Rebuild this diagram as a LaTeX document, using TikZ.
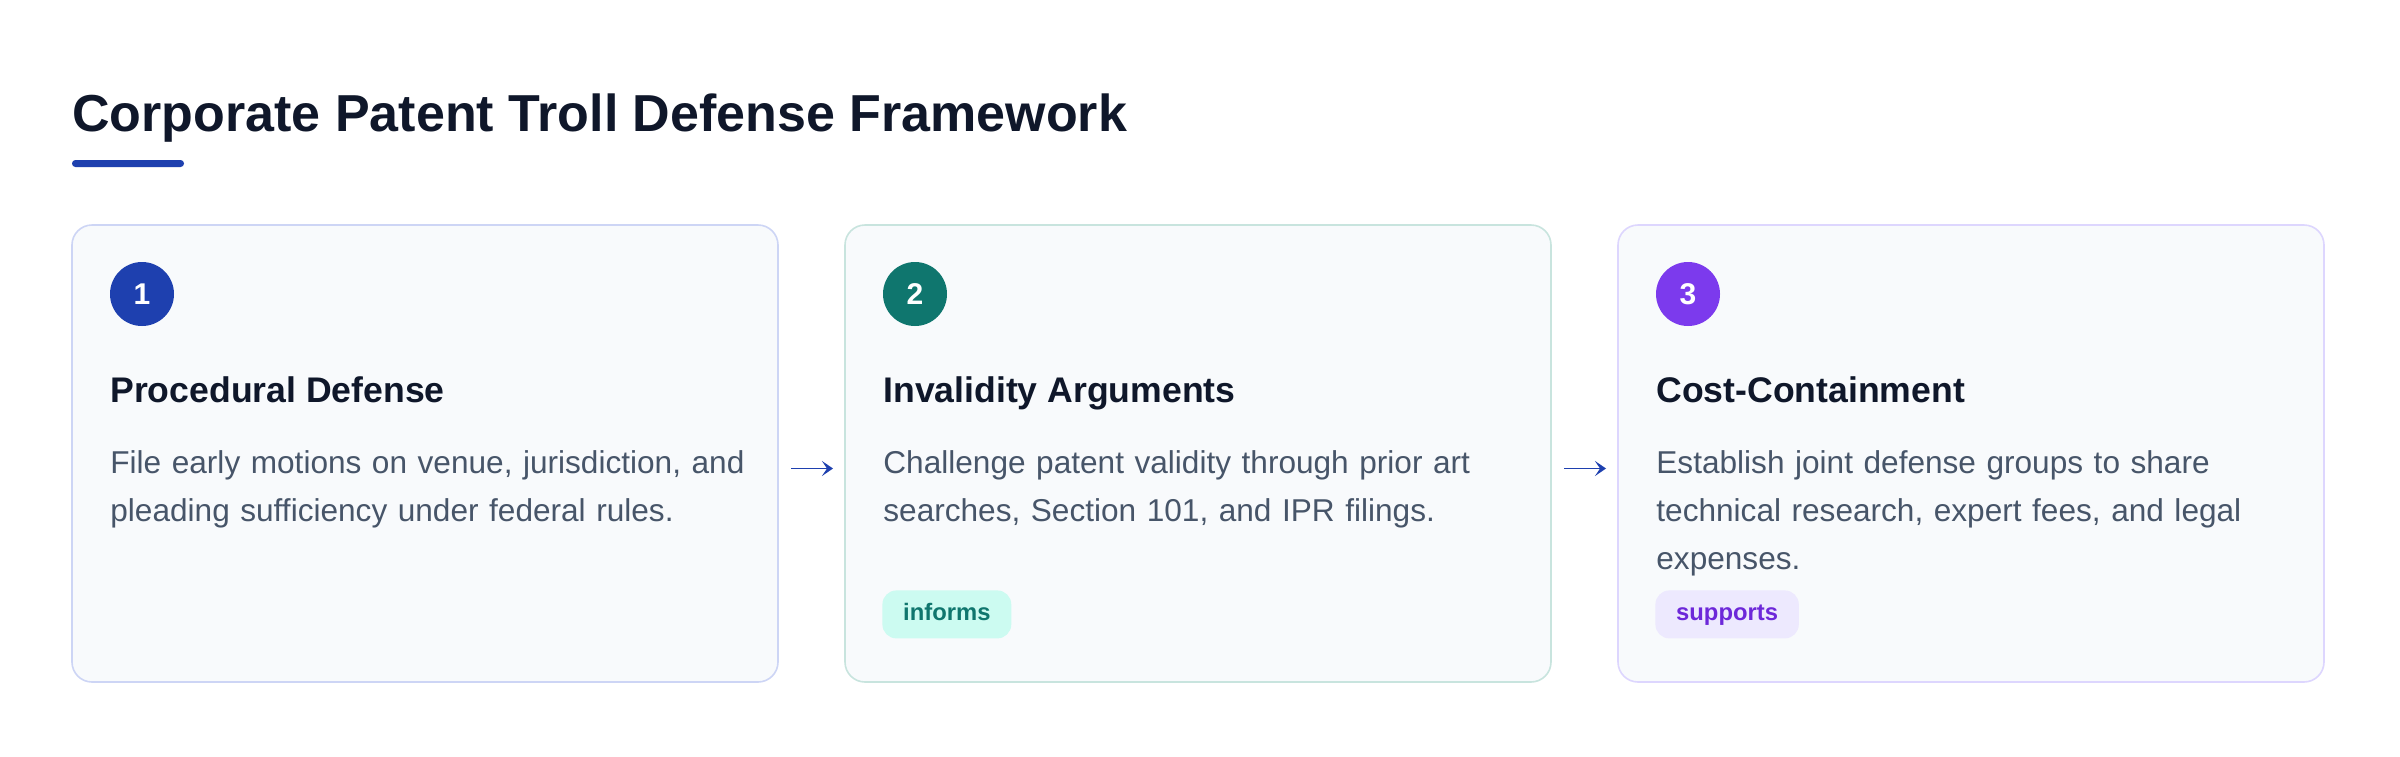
\documentclass[tikz,border=0pt]{standalone}
\usepackage{fontspec}
\setmainfont{Liberation Sans}
\usetikzlibrary{arrows.meta,positioning,calc}
\definecolor{pttitle}{HTML}{0F172A}
\definecolor{ptblue}{HTML}{1E40AF}
\definecolor{ptteal}{HTML}{0F766E}
\definecolor{ptviolet}{HTML}{7C3AED}
\definecolor{ptcardbg}{HTML}{F8FAFC}
\definecolor{ptbody}{HTML}{475569}
\definecolor{ptedge1}{RGB}{205,213,245}
\definecolor{ptedge2}{RGB}{200,228,222}
\definecolor{ptedge3}{RGB}{221,214,254}
\definecolor{pttealbg}{HTML}{CCFBF1}
\definecolor{ptvioletbg}{HTML}{EDE9FE}
\definecolor{ptviolettext}{HTML}{6D28D9}
\tikzstyle{card} = [rectangle, rounded corners=10pt, minimum width=353pt, minimum height=228.5pt, anchor=north west, fill=ptcardbg, line width=0.8pt, outer sep=0pt]
\tikzstyle{numdot} = [circle, minimum size=32pt, inner sep=0pt, text=white, font=\bfseries\fontsize{15}{15}\selectfont]
\tikzstyle{stephead} = [anchor=base west, inner sep=0pt, text=pttitle, font=\bfseries\fontsize{17.8}{21}\selectfont]
\tikzstyle{stepbody} = [anchor=base west, inner sep=0pt, text width=330pt, align=left, text=ptbody, font=\fontsize{15.8}{24}\selectfont]
\tikzstyle{tag} = [rectangle, rounded corners=7pt, anchor=north west, minimum height=24pt, inner xsep=10.4pt, inner ysep=0pt, text height=8.6pt, text depth=2.5pt, font=\bfseries\fontsize{11.9}{12}\selectfont]
\tikzstyle{arrow} = [line width=0.9pt, -{Stealth[length=5.5pt,width=7.5pt,inset=2.5pt]}, color=ptblue, shorten <=6.5pt, shorten >=6pt]

\begin{document}
\begin{tikzpicture}[x=0.5pt, y=-0.5pt]
\useasboundingbox[fill=white] (0,0) rectangle (2400,756);

% Title and accent bar
\node[anchor=base west, inner sep=0pt, text=pttitle, font=\bfseries\fontsize{26}{30}\selectfont] (title) at (72,131) {Corporate Patent Troll Defense Framework};
\fill[ptblue, rounded corners=1.7pt] (72,160) rectangle (184,167);

% Cards
\node[card, draw=ptedge1] (c1) at (72,225) {};
\node[card, draw=ptedge2, right=33.5pt of c1.north east, anchor=north west] (c2) {};
\node[card, draw=ptedge3, right=33.5pt of c2.north east, anchor=north west] (c3) {};

% Step numbers
\node[numdot, fill=ptblue] (n1) at ($(c1.north west)+(70,69)$) {1};
\node[numdot, fill=ptteal] (n2) at ($(c2.north west)+(70,69)$) {2};
\node[numdot, fill=ptviolet] (n3) at ($(c3.north west)+(70,69)$) {3};

% Headings
\node[stephead] (h1) at ($(c1.north west)+(38,177)$) {Procedural Defense};
\node[stephead] (h2) at ($(c2.north west)+(38,177)$) {Invalidity Arguments};
\node[stephead] (h3) at ($(c3.north west)+(38,177)$) {Cost-Containment};

% Descriptions
\node[stepbody] (b1) at ($(c1.north west)+(38,248)$) {File early motions on venue, jurisdiction, and\\pleading sufficiency under federal rules.};
\node[stepbody] (b2) at ($(c2.north west)+(38,248)$) {Challenge patent validity through prior art\\searches, Section 101, and IPR filings.};
\node[stepbody] (b3) at ($(c3.north west)+(38,248)$) {Establish joint defense groups to share\\technical research, expert fees, and legal\\expenses.};

% Relation tags
\node[tag, fill=pttealbg, text=ptteal] (t2) at ($(c2.north west)+(37,365)$) {informs};
\node[tag, fill=ptvioletbg, text=ptviolettext] (t3) at ($(c3.north west)+(37,365)$) {supports};

% Flow arrows
\draw[arrow] ([yshift=-7.5pt]c1.east) -- ([yshift=-7.5pt]c2.west);
\draw[arrow] ([yshift=-7.5pt]c2.east) -- ([yshift=-7.5pt]c3.west);
\end{tikzpicture}
\end{document}
